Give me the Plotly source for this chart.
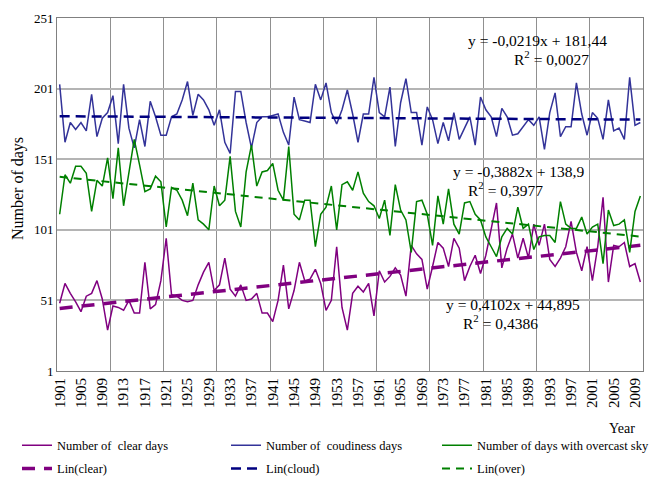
import plotly.graph_objects as go

years = list(range(1901, 2011))

clear_days = [49, 63, 56, 50, 43, 54, 56, 65, 52, 30,
              47, 46, 44, 51, 42, 42, 78, 45, 48, 65,
              95, 55, 54, 51, 50, 51, 62, 71, 78, 58,
              62, 81, 59, 54, 62, 51, 52, 56, 42, 42,
              36, 51, 76, 45, 58, 78, 65, 66, 73, 63,
              44, 51, 89, 46, 30, 56, 61, 57, 63, 40,
              72, 64, 68, 74, 69, 54, 90, 84, 80, 59,
              75, 92, 88, 75, 95, 88, 65, 75, 83, 70,
              83, 101, 120, 74, 88, 98, 81, 95, 81, 105,
              90, 105, 80, 75, 81, 89, 107, 85, 72, 89,
              65, 89, 124, 64, 90, 89, 92, 75, 77, 64]

cloud_days = [204, 163, 177, 172, 177, 171, 197, 167, 180, 184,
              196, 162, 204, 173, 159, 179, 160, 192, 181, 168,
              168, 181, 183, 193, 206, 182, 197, 193, 186, 175,
              186, 163, 155, 199, 199, 177, 159, 177, 181, 181,
              182, 183, 170, 161, 195, 179, 178, 177, 204, 193,
              205, 184, 176, 186, 200, 183, 163, 183, 183, 209,
              184, 181, 202, 160, 191, 208, 184, 184, 161, 188,
              179, 162, 177, 164, 184, 165, 173, 181, 161, 195,
              186, 181, 167, 187, 181, 168, 169, 174, 179, 175,
              181, 158, 184, 198, 167, 174, 174, 205, 183, 168,
              184, 180, 165, 193, 171, 173, 165, 209, 175, 177]

overcast_days = [112, 140, 134, 146, 146, 141, 114, 136, 132, 152,
                 123, 159, 118, 142, 165, 147, 128, 130, 139, 135,
                 103, 131, 129, 122, 111, 134, 108, 105, 101, 132,
                 118, 122, 153, 114, 103, 142, 161, 132, 142, 143,
                 148, 129, 122, 160, 112, 108, 122, 122, 89, 112,
                 117, 132, 101, 133, 135, 129, 142, 127, 121, 118,
                 109, 122, 97, 133, 115, 108, 85, 121, 122, 112,
                 90, 125, 105, 130, 105, 98, 120, 121, 112, 108,
                 96, 89, 82, 96, 102, 98, 117, 102, 105, 87,
                 96, 97, 97, 92, 121, 105, 102, 102, 110, 98,
                 103, 105, 77, 115, 104, 105, 108, 85, 114, 125]

# Trend equations printed on the chart: y = a*x + b, x = 1..110
trend_clear = (0.4102, 44.895)
trend_cloud = (-0.0219, 181.44)
trend_over = (-0.3882, 138.9)

x_tick_labels = [str(y) for y in range(1901, 2010, 4)]
y_ticks = [1, 51, 101, 151, 201, 251]

idx = list(range(1, len(years) + 1))
def trend(c):
    return [c[0] * i + c[1] for i in idx]

SERIF = "Liberation Serif"
PURPLE = "#800080"
BLUE = "#333399"
NAVY = "#000080"
GREEN = "#008000"

fig = go.Figure()
fig.add_trace(go.Scatter(x=years, y=clear_days, mode="lines", name="Number of  clear days",
                         line=dict(color=PURPLE, width=1.5), legend="legend", legendgroup="a"))
fig.add_trace(go.Scatter(x=years, y=trend(trend_clear), mode="lines", name="Lin(clear)",
                         line=dict(color=PURPLE, width=3.5, dash="13px,9px"), legend="legend", legendgroup="b"))
fig.add_trace(go.Scatter(x=years, y=cloud_days, mode="lines", name="Number of  coudiness days",
                         line=dict(color=BLUE, width=1.5), legend="legend2", legendgroup="c"))
fig.add_trace(go.Scatter(x=years, y=trend(trend_cloud), mode="lines", name="Lin(cloud)",
                         line=dict(color=NAVY, width=2.5, dash="10px,6px"), legend="legend2", legendgroup="d"))
fig.add_trace(go.Scatter(x=years, y=overcast_days, mode="lines", name="Number of days with overcast sky",
                         line=dict(color=GREEN, width=1.5), legend="legend3", legendgroup="e"))
fig.add_trace(go.Scatter(x=years, y=trend(trend_over), mode="lines", name="Lin(over)",
                         line=dict(color=GREEN, width=2, dash="8px,6px"), legend="legend3", legendgroup="f"))

leg_common = dict(orientation="v", yanchor="top", xanchor="left", y=0.097,
                  xref="container", yref="container",
                  font=dict(family=SERIF, size=12.5, color="#000"), bgcolor="rgba(0,0,0,0)",
                  tracegroupgap=4, itemwidth=30)

fig.update_layout(
    width=653, height=477,
    margin=dict(l=57, r=10, t=18, b=106, autoexpand=False),
    paper_bgcolor="white", plot_bgcolor="white",
    showlegend=True,
    legend=dict(x=17 / 653, **leg_common),
    legend2=dict(x=226 / 653, **leg_common),
    legend3=dict(x=437 / 653, **leg_common),
    font=dict(family=SERIF, size=13, color="#000"),
    xaxis=dict(range=[1900.5, 2010.5], tickmode="array",
               tickvals=[int(t) for t in x_tick_labels], ticktext=x_tick_labels,
               tickangle=-90, showgrid=False, zeroline=False, automargin=False,
               showline=True, linecolor="#808080", linewidth=1, mirror=True,
               ticks="", tickfont=dict(family=SERIF, size=15),
               minor=dict(tickmode="linear", tick0=1900.5, dtick=10, showgrid=True,
                          gridcolor="#909090", gridwidth=1, ticks="")),
    yaxis=dict(range=[1, 251], tickmode="array", tickvals=y_ticks, automargin=False,
               showgrid=True, gridcolor="#b4b4b4", gridwidth=1.5, zeroline=False,
               showline=True, linecolor="#808080", linewidth=1, mirror=True,
               ticks="", tickfont=dict(family=SERIF, size=13)),
)

ann_font = dict(family=SERIF, size=15.5, color="#000")
anns = [
    ("y = -0,0219x + 181,44", 537, 40), ("R<sup>2</sup> = 0,0027", 551, 58),
    ("y = -0,3882x + 138,9", 518, 171), ("R<sup>2</sup> = 0,3977", 505, 189),
    ("y = 0,4102x + 44,895", 513, 304), ("R<sup>2</sup> = 0,4386", 500, 322),
]
for text, xpx, ypx in anns:
    fig.add_annotation(text=text, xref="paper", yref="paper", x=(xpx - 57) / 586,
                       y=(371 - ypx) / (371 - 18), showarrow=False, font=ann_font,
                       xanchor="center", yanchor="middle")
fig.add_annotation(text="Year", xref="paper", yref="paper", x=(622 - 57) / 586,
                   y=-(428 - 371) / (371 - 18), showarrow=False,
                   font=dict(family=SERIF, size=14), xanchor="center", yanchor="middle")
fig.add_annotation(text="Number of days", xref="paper", yref="paper", x=(18 - 57) / 586,
                   y=(371 - 189) / (371 - 18), showarrow=False, textangle=-90,
                   font=dict(family=SERIF, size=16), xanchor="center", yanchor="middle")

fig.write_html("out.html")
